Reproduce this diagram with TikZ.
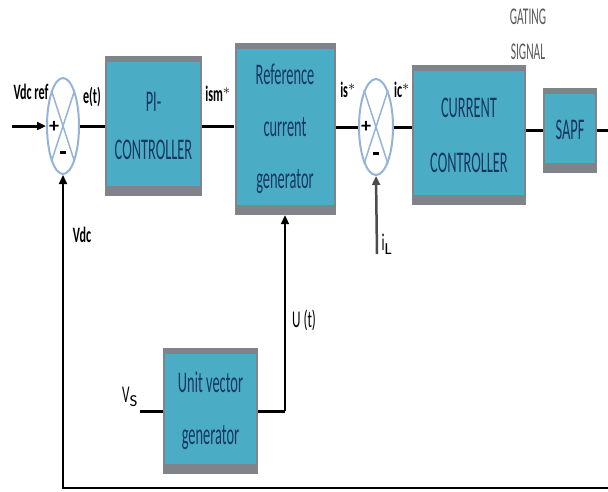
\documentclass[tikz,border=0pt]{standalone}
\usepackage{fontspec}
\setmainfont{Carlito}
\newfontfamily\condf[FakeStretch=0.48]{Carlito}
\newfontfamily\labf[FakeStretch=0.55]{Carlito}
\usetikzlibrary{shapes.geometric,arrows.meta}
\definecolor{boxteal}{RGB}{75,172,198}
\definecolor{boxgrey}{RGB}{128,132,138}
\definecolor{boxtext}{RGB}{23,55,94}
\definecolor{sumblue}{RGB}{149,179,215}
\definecolor{gatetext}{RGB}{90,90,90}
\begin{document}
\begin{tikzpicture}[x=1pt,y=-1pt,
  blockbox/.style={fill=boxgrey, inner sep=0pt, align=center, text=boxtext,
    font={\condf\fontsize{30}{52}\selectfont},
    path picture={\fill[boxteal] ([shift={(2pt,-6pt)}]path picture bounding box.north west)
      rectangle ([shift={(-2pt,10pt)}]path picture bounding box.south east);}},
  sumnode/.style={ellipse, draw=sumblue, line width=2pt, minimum width=32pt, minimum height=96pt, inner sep=0pt},
  sumx/.style={draw=sumblue, line width=1.5pt},
  mainline/.style={line width=3pt, black},
  fbline/.style={line width=2pt, black},
  arr/.style={-{Triangle[length=9pt,width=8pt]}},
  lab/.style={font={\labf\bfseries\fontsize{22}{24}\selectfont}, inner sep=0pt},
  plab/.style={font={\labf\fontsize{24}{26}\selectfont}, inner sep=0pt},
  sign/.style={font={\bfseries\fontsize{20}{20}\selectfont}, inner sep=0pt}
]
\useasboundingbox (0,0) rectangle (608,491);

% summing junctions
\node[sumnode] (s1) at (63,126) {};
\draw[sumx] (s1.108) -- (s1.-72);
\draw[sumx] (s1.72) -- (s1.-108);
\node[sign] (p1) at (54,127) {+};
\node[sign] (m1) at (63,152) {\rule{6pt}{3pt}};

\node[sumnode, minimum width=34pt] (s2) at (376,127) {};
\draw[sumx] (s2.108) -- (s2.-72);
\draw[sumx] (s2.72) -- (s2.-108);
\node[sign] (p2) at (366,127) {+};
\node[sign] (m2) at (376,153) {\rule{6pt}{3pt}};

% blocks
\node[blockbox, minimum width=97pt, minimum height=140pt, font={\condf\fontsize{30}{48}\selectfont}] (pi) at (153.5,126) {PI-\\CONTROLLER};
\node[blockbox, minimum width=101pt, minimum height=172pt] (ref) at (285,129) {Reference\\current\\generator};
\node[blockbox, minimum width=114pt, minimum height=140pt, font={\condf\fontsize{30}{55}\selectfont}] (cc) at (469,135) {CURRENT\\CONTROLLER};
\node[blockbox, minimum width=54pt, minimum height=85pt] (sapf) at (570,130) {SAPF};
\node[blockbox, minimum width=95pt, minimum height=126pt] (uv) at (210.5,411) {Unit vector\\generator};

% main path
\coordinate (vin) at (12,126);
\coordinate (out) at (608,130);
\draw[mainline, arr] (vin) -- (s1.west);
\draw[mainline] (s1.east) -- (pi.west |- s1.east);
\draw[mainline] (pi.east) -- (ref.west |- pi.east);
\draw[mainline] (ref.east |- s2.west) -- (s2.west);
\draw[mainline] (s2.east) -- (cc.west |- s2.east);
\draw[mainline] (cc.east |- sapf.west) -- (sapf.west);
\draw[mainline] (sapf.east) -- (out);

% feedback
\coordinate (fbr) at (608,488);
\draw[fbline, arr] (fbr) -| (s1.south);

% load current
\coordinate (il) at (377,254);
\draw[fbline, arr, line width=2.5pt, draw=black!70, fill=black!70] (il) -- (s2.south);

% unit vector generator
\coordinate (vs) at (140,411);
\draw[mainline] (vs) -- (uv.west);
\draw[mainline] (uv.east) -- (ref.south |- uv.east);
\draw[fbline, arr] (ref.south |- uv.east) -- (ref.south);

% labels
\node[lab] (lvref) at (31,92) {Vdc ref};
\node[lab] (let) at (92,97) {e(t)};
\node[lab] (lism) at (218,94) {ism$^{*}$};
\node[lab] (lis) at (348,90) {is$^{*}$};
\node[lab] (lic) at (402,90) {ic$^{*}$};
\node[lab] (lvdc) at (82,235) {Vdc};
\node[plab] (lut) at (304,320) {U (t)};
\node[plab] (lvs) at (130,397) {V$_{\mathrm{S}}$};
\node[plab] (lil) at (387,244) {i$_{\mathrm{L}}$};
\node[font={\condf\fontsize{24}{26}\selectfont}, text=gatetext, inner sep=0pt] (lgate) at (528,17) {GATING};
\node[font={\condf\fontsize{24}{26}\selectfont}, text=gatetext, inner sep=0pt] (lsig) at (528,52) {SIGNAL};
\end{tikzpicture}
\end{document}
